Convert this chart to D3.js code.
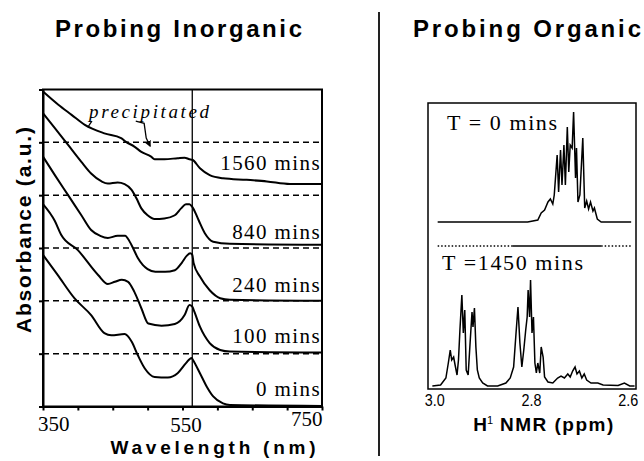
<!DOCTYPE html>
<html>
<head>
<meta charset="utf-8">
<script src="https://cdn.jsdelivr.net/npm/d3@7/dist/d3.min.js"></script>
<style>
  body { margin: 0; background: #fff; }
</style>
</head>
<body>
<div id="figure"></div>
<script>
// Spectres UV-visible : [longueur d'onde (nm), absorbance décalée (u.a.)]
const spectre_0 = [[350,2.87],[371,2.49],[395,2.05],[419,1.73],[438,1.39],[448,1.35],[467,1.37],[477,1.23],[486,0.97],[496,0.72],[510,0.56],[529,0.55],[543,0.63],[555,0.82],[563,0.92],[565,0.88],[575,0.63],[585,0.37],[594,0.19],[608,0.06],[618,0.03],[750,0.01]]
const spectre_100 = [[350,3.83],[367,3.51],[376,3.25],[400,2.96],[429,2.49],[443,2.32],[453,2.36],[463,2.40],[472,2.36],[481,2.17],[491,1.86],[501,1.57],[520,1.53],[539,1.56],[553,1.73],[560,1.92],[564,1.89],[566,1.83],[575,1.51],[589,1.20],[604,1.07],[618,1.04],[750,1.02]]
const spectre_240 = [[350,4.73],[367,4.38],[386,4.00],[405,3.62],[419,3.34],[432,3.23],[443,3.19],[457,3.23],[468,3.23],[472,3.17],[479,3.00],[486,2.81],[493,2.68],[500,2.60],[511,2.55],[525,2.55],[539,2.58],[549,2.72],[556,2.85],[561,2.90],[564,2.87],[566,2.71],[575,2.46],[589,2.20],[604,2.05],[618,2.02],[750,2.00]]
const spectre_840 = [[350,5.55],[367,5.27],[386,4.95],[405,4.63],[419,4.41],[434,4.26],[443,4.22],[457,4.24],[467,4.21],[477,4.10],[484,3.94],[491,3.75],[500,3.62],[510,3.55],[524,3.56],[539,3.62],[548,3.75],[555,3.83],[560,3.83],[564,3.78],[573,3.53],[582,3.28],[594,3.12],[618,3.08],[750,3.06]]
const spectre_1560 = [[350,5.96],[372,5.71],[391,5.52],[410,5.33],[438,5.17],[462,5.08],[469,5.01],[481,4.92],[491,4.82],[505,4.73],[510,4.68],[524,4.68],[543,4.70],[553,4.71],[560,4.68],[564,4.67],[575,4.51],[589,4.38],[608,4.32],[642,4.29],[671,4.26],[704,4.21],[750,4.21]]

const temps_labels = ["0 mins", "100 mins", "240 mins", "840 mins", "1560 mins"]
const niveaux_pointilles = [1, 2, 3, 4, 5]
const ticks_nm = [350, 400, 450, 500, 550, 600, 650, 700, 750]
const labels_nm = [350, 550, 750]
const ticks_abs = [0, 1, 2, 3, 4, 5, 6]
const pic_nm = 564

// Spectres RMN : [déplacement (ppm), intensité]
const rmn_t0 = [[2.994,0],[2.808,0],[2.787,2],[2.780,9],[2.773,12],[2.766,20],[2.761,23],[2.756,18],[2.753,27],[2.747,67],[2.744,30],[2.740,72],[2.737,37],[2.733,77],[2.730,37],[2.726,95],[2.723,50],[2.720,77],[2.716,74],[2.713,110],[2.709,44],[2.707,74],[2.704,20],[2.700,27],[2.694,84],[2.690,14],[2.686,21],[2.682,13],[2.678,20],[2.673,11],[2.670,14],[2.664,3],[2.656,0],[2.594,0]]
const rmn_t1450 = [[3.005,0],[2.988,1],[2.977,8],[2.972,23],[2.968,36],[2.965,26],[2.961,29],[2.958,21],[2.954,11],[2.951,26],[2.948,56],[2.944,91],[2.941,53],[2.938,76],[2.935,16],[2.931,11],[2.927,43],[2.923,74],[2.921,59],[2.918,78],[2.915,39],[2.912,16],[2.908,8],[2.901,3],[2.891,0],[2.870,0],[2.853,3],[2.844,8],[2.837,19],[2.832,53],[2.828,79],[2.824,43],[2.820,19],[2.816,36],[2.812,56],[2.809,69],[2.807,96],[2.804,69],[2.802,106],[2.799,53],[2.796,69],[2.793,23],[2.790,13],[2.787,23],[2.783,13],[2.780,39],[2.776,29],[2.773,9],[2.766,4],[2.756,3],[2.746,8],[2.739,10],[2.732,8],[2.725,12],[2.720,9],[2.715,15],[2.710,19],[2.706,12],[2.701,15],[2.696,8],[2.691,12],[2.686,6],[2.677,3],[2.663,3],[2.652,1],[2.621,0.5],[2.608,3],[2.597,0],[2.587,0]]
const ticks_ppm = [3.0, 2.8, 2.6]
const separateur_ppm = [2.994, 2.84, 2.656, 2.594]

const width = 644
const height = 461
const serif = "'Liberation Serif', 'DejaVu Serif', serif"
const sans = "'Liberation Sans', Arial, sans-serif"

const svg = d3.select("#figure")
  .append("svg")
  .attr("width", width)
  .attr("height", height)

// Titres
svg.append("text")
  .attr("x", 178.5).attr("y", 37)
  .attr("text-anchor", "middle")
  .attr("font-family", sans).attr("font-weight", "bold").attr("font-size", "24px")
  .attr("textLength", 247).attr("lengthAdjust", "spacing")
  .text("Probing Inorganic")

svg.append("text")
  .attr("x", 527).attr("y", 37)
  .attr("text-anchor", "middle")
  .attr("font-family", sans).attr("font-weight", "bold").attr("font-size", "24px")
  .attr("textLength", 228).attr("lengthAdjust", "spacing")
  .text("Probing Organic")

// Séparateur vertical
svg.append("line")
  .attr("x1", 379).attr("x2", 379).attr("y1", 12).attr("y2", 456)
  .attr("stroke", "#222").attr("stroke-width", 2)

// ---------- Graphique UV-visible ----------
const x_nm = d3.scaleLinear().domain([350, 750]).range([43, 322])
const y_abs = d3.scaleLinear().domain([0, 6]).range([406.5, 89.5])

const g_uv = svg.append("g")

g_uv.append("rect")
  .attr("x", x_nm(350)).attr("y", y_abs(6))
  .attr("width", x_nm(750) - x_nm(350)).attr("height", y_abs(0) - y_abs(6))
  .attr("fill", "none").attr("stroke", "#000").attr("stroke-width", 2)

// lignes pointillées
g_uv.selectAll("line.pointille")
  .data(niveaux_pointilles)
  .enter()
  .append("line")
  .attr("class", "pointille")
  .attr("x1", x_nm(350)).attr("x2", x_nm(750))
  .attr("y1", d => y_abs(d)).attr("y2", d => y_abs(d))
  .attr("stroke", "#000").attr("stroke-width", 1.5)
  .attr("stroke-dasharray", "6,4")

// ligne verticale au pic
g_uv.append("line")
  .attr("x1", x_nm(pic_nm)).attr("x2", x_nm(pic_nm))
  .attr("y1", y_abs(6)).attr("y2", y_abs(0))
  .attr("stroke", "#000").attr("stroke-width", 1.3)

// axes
g_uv.append("g")
  .attr("transform", "translate(0," + y_abs(0) + ")")
  .call(d3.axisBottom(x_nm).tickValues(ticks_nm).tickSize(4).tickSizeOuter(0).tickFormat(""))
  .call(g => g.selectAll("path, line").attr("stroke", "#000").attr("stroke-width", 2))

g_uv.append("g")
  .attr("transform", "translate(" + x_nm(350) + ",0)")
  .call(d3.axisLeft(y_abs).tickValues(ticks_abs).tickSize(4).tickSizeOuter(0).tickFormat(""))
  .call(g => g.selectAll("path, line").attr("stroke", "#000").attr("stroke-width", 2))

// étiquettes de l'axe x
const ancrages_nm = ["start", "middle", "end"]
const decalages_nm = [[-5, 431], [3.5, 432], [0.5, 426]]
g_uv.selectAll("text.tick_nm")
  .data(labels_nm)
  .enter()
  .append("text")
  .attr("class", "tick_nm")
  .attr("x", (d, i) => x_nm(d) + decalages_nm[i][0])
  .attr("y", (d, i) => decalages_nm[i][1])
  .attr("text-anchor", (d, i) => ancrages_nm[i])
  .attr("font-family", serif).attr("font-size", "21px")
  .text(d => d)

svg.append("text")
  .attr("x", 213).attr("y", 454)
  .attr("text-anchor", "middle")
  .attr("font-family", sans).attr("font-weight", "bold").attr("font-size", "19px")
  .attr("textLength", 205).attr("lengthAdjust", "spacing")
  .text("Wavelength (nm)")

svg.append("text")
  .attr("transform", "translate(31,230) rotate(-90)")
  .attr("text-anchor", "middle")
  .attr("font-family", sans).attr("font-weight", "bold").attr("font-size", "21px")
  .attr("textLength", 206).attr("lengthAdjust", "spacing")
  .text("Absorbance (a.u.)")

// courbes
const spectres = [spectre_0, spectre_100, spectre_240, spectre_840, spectre_1560]
const ligne_uv = d3.line()
  .x(d => x_nm(d[0]))
  .y(d => y_abs(d[1]))
  .curve(d3.curveMonotoneX)

g_uv.selectAll("path.spectre")
  .data(spectres)
  .enter()
  .append("path")
  .attr("class", "spectre")
  .attr("d", ligne_uv)
  .attr("fill", "none")
  .attr("stroke", "#000")
  .attr("stroke-width", 2)
  .attr("stroke-linejoin", "round")

// étiquettes des temps, au-dessus de la fin de chaque courbe
const ecarts_labels = [10, 9.5, 8.7, 6, 14]
g_uv.selectAll("text.temps")
  .data(temps_labels)
  .enter()
  .append("text")
  .attr("class", "temps")
  .attr("x", x_nm(750) - 1)
  .attr("y", (d, i) => y_abs(spectres[i][spectres[i].length - 1][1]) - ecarts_labels[i])
  .attr("text-anchor", "end")
  .attr("font-family", serif).attr("font-size", "21px")
  .attr("letter-spacing", "1.4px")
  .text(d => d)

// annotation "precipitated"
g_uv.append("text")
  .attr("x", x_nm(416)).attr("y", y_abs(5.46))
  .attr("font-family", serif).attr("font-style", "italic").attr("font-size", "19px")
  .attr("textLength", 120).attr("lengthAdjust", "spacing")
  .text("precipitated")

svg.append("defs").append("marker")
  .attr("id", "fleche")
  .attr("viewBox", "0 0 10 10")
  .attr("refX", 8).attr("refY", 5)
  .attr("markerWidth", 5).attr("markerHeight", 5)
  .attr("orient", "auto")
  .append("path")
  .attr("d", "M0,0 L10,5 L0,10 Z")
  .attr("fill", "#000")

const fleche_pts = [[483, 5.40], [495, 5.36], [498, 5.08], [503.5, 4.93]]
g_uv.append("path")
  .attr("d", d3.line().x(d => x_nm(d[0])).y(d => y_abs(d[1]))(fleche_pts))
  .attr("fill", "none").attr("stroke", "#000").attr("stroke-width", 1.3)
  .attr("marker-end", "url(#fleche)")

g_uv.append("line")
  .attr("x1", x_nm(420)).attr("y1", y_abs(5.40))
  .attr("x2", x_nm(414.5)).attr("y2", y_abs(5.29))
  .attr("stroke", "#000").attr("stroke-width", 1.3)

// ---------- Graphique RMN ----------
const x_ppm = d3.scaleLinear().domain([3.014, 2.584]).range([428, 636])
const y_haut = d3.scaleLinear().domain([0, 110]).range([222, 112])
const y_bas = d3.scaleLinear().domain([0, 110]).range([386, 276])

const g_rmn = svg.append("g")

g_rmn.append("rect")
  .attr("x", x_ppm(3.014)).attr("y", 103)
  .attr("width", x_ppm(2.584) - x_ppm(3.014)).attr("height", 286)
  .attr("fill", "none").attr("stroke", "#000").attr("stroke-width", 1.5)

g_rmn.append("path")
  .attr("d", d3.line().x(d => x_ppm(d[0])).y(d => y_haut(d[1]))(rmn_t0))
  .attr("fill", "none").attr("stroke", "#000").attr("stroke-width", 1.5)

g_rmn.append("path")
  .attr("d", d3.line().x(d => x_ppm(d[0])).y(d => y_bas(d[1]))(rmn_t1450))
  .attr("fill", "none").attr("stroke", "#000").attr("stroke-width", 1.5)

// ligne de séparation (pointillé / plein / pointillé)
const styles_sep = ["1.5,2", null, "1.5,2"]
for (let i = 0; i < separateur_ppm.length - 1; i++) {
  g_rmn.append("line")
    .attr("x1", x_ppm(separateur_ppm[i])).attr("x2", x_ppm(separateur_ppm[i + 1]))
    .attr("y1", 246).attr("y2", 246)
    .attr("stroke", "#000").attr("stroke-width", 1.5)
    .attr("stroke-dasharray", styles_sep[i])
}

g_rmn.append("text")
  .attr("x", 447).attr("y", 130)
  .attr("font-family", serif).attr("font-size", "22px")
  .attr("textLength", 110).attr("lengthAdjust", "spacing")
  .text("T = 0 mins")

g_rmn.append("text")
  .attr("x", 442).attr("y", 270)
  .attr("font-family", serif).attr("font-size", "22px")
  .attr("textLength", 141).attr("lengthAdjust", "spacing")
  .text("T =1450 mins")

g_rmn.selectAll("text.tick_ppm")
  .data(ticks_ppm)
  .enter()
  .append("text")
  .attr("class", "tick_ppm")
  .attr("x", d => x_ppm(d))
  .attr("y", 406)
  .attr("text-anchor", "middle")
  .attr("font-family", sans).attr("font-size", "16px")
  .attr("textLength", 20).attr("lengthAdjust", "spacingAndGlyphs")
  .text(d => d.toFixed(1))

const titre_rmn = g_rmn.append("text")
  .attr("x", 544).attr("y", 431)
  .attr("text-anchor", "middle")
  .attr("font-family", sans).attr("font-weight", "bold").attr("font-size", "19px")
titre_rmn.append("tspan").text("H")
titre_rmn.append("tspan").attr("dy", -7).attr("font-size", "11px").attr("font-weight", "normal").text("1")
titre_rmn.append("tspan").attr("dy", 7).attr("letter-spacing", "1.5px").text(" NMR (ppm)")
</script>
</body>
</html>
